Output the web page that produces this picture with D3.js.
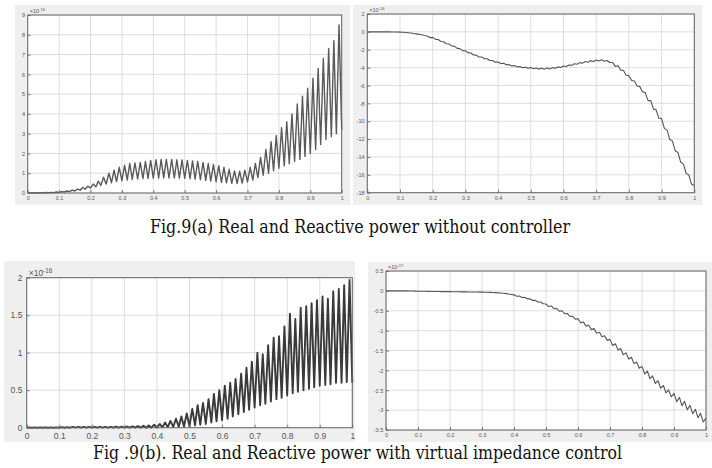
<!DOCTYPE html>
<html>
<head>
<meta charset="utf-8">
<script src="https://cdn.jsdelivr.net/npm/d3@7"></script>
<style>
  body { margin: 0; background: #fff; }
  svg { display: block; }
  .tick text { font-family: "Liberation Sans", Arial, sans-serif; fill: #555; }
  .caption { font-family: "DejaVu Serif", "Liberation Serif", serif; fill: #111; }
</style>
</head>
<body>
<div id="fig"></div>
<script>
// ---- data ----
// cycle boundaries (about 60 Hz over 1 s)
var cycleTimes = [0.000, 0.017, 0.033, 0.050, 0.067, 0.083, 0.100, 0.117, 0.133, 0.150,
  0.167, 0.183, 0.200, 0.217, 0.233, 0.250, 0.267, 0.283, 0.300, 0.317,
  0.333, 0.350, 0.367, 0.383, 0.400, 0.417, 0.433, 0.450, 0.467, 0.483,
  0.500, 0.517, 0.533, 0.550, 0.567, 0.583, 0.600, 0.617, 0.633, 0.650,
  0.667, 0.683, 0.700, 0.717, 0.733, 0.750, 0.767, 0.783, 0.800, 0.817,
  0.833, 0.850, 0.867, 0.883, 0.900, 0.917, 0.933, 0.950, 0.967, 0.983, 1.000];

var xTicks = [0, 0.1, 0.2, 0.3, 0.4, 0.5, 0.6, 0.7, 0.8, 0.9, 1];

// Fig 9(a) real power: troughs at cycle boundaries, peaks mid-cycle
var paTrough = [0, 0, 0, 0, 0.01, 0.02, 0.03, 0.05, 0.07, 0.1,
  0.14, 0.19, 0.25, 0.31, 0.38, 0.45, 0.52, 0.58, 0.63, 0.66,
  0.69, 0.71, 0.73, 0.74, 0.75, 0.76, 0.76, 0.76, 0.76, 0.75,
  0.74, 0.72, 0.7, 0.67, 0.64, 0.6, 0.57, 0.54, 0.51, 0.49,
  0.48, 0.5, 0.56, 0.65, 0.78, 0.9, 1.0, 1.12, 1.25, 1.37,
  1.48, 1.6, 1.7, 1.85, 2.0, 2.2, 2.45, 2.7, 2.85, 3.0, 3.2];
var paPeak = [0.02, 0.02, 0.02, 0.03, 0.03, 0.05, 0.07, 0.1, 0.15, 0.2,
  0.28, 0.35, 0.45, 0.6, 0.8, 1.0, 1.15, 1.3, 1.4, 1.5,
  1.52, 1.55, 1.6, 1.65, 1.68, 1.7, 1.7, 1.7, 1.68, 1.67,
  1.65, 1.62, 1.6, 1.55, 1.5, 1.45, 1.38, 1.3, 1.2, 1.12,
  1.1, 1.15, 1.3, 1.5, 1.8, 2.2, 2.6, 2.9, 3.3, 3.6,
  4.0, 4.5, 4.9, 5.3, 5.8, 6.3, 6.8, 7.3, 7.7, 8.5];
var paTicks = [0, 1, 2, 3, 4, 5, 6, 7, 8, 9];

// Fig 9(a) reactive power: tops at cycle boundaries, dips mid-cycle
var qaTop = [0, 0, 0, 0, 0, -0.01, -0.03, -0.07, -0.13, -0.22,
  -0.33, -0.46, -0.62, -0.85, -1.1, -1.35, -1.62, -1.88, -2.12, -2.37,
  -2.6, -2.82, -3.0, -3.2, -3.37, -3.52, -3.65, -3.77, -3.87, -3.95,
  -4.0, -4.04, -4.06, -4.05, -4.0, -3.92, -3.82, -3.7, -3.56, -3.44,
  -3.32, -3.22, -3.15, -3.12, -3.2, -3.42, -3.8, -4.3, -4.9, -5.5,
  -6.1, -6.8, -7.7, -8.7, -9.7, -11.0, -12.2, -13.5, -14.8, -16.0, -17.2];
var qaDip = [0, 0, 0, 0, -0.01, -0.02, -0.05, -0.1, -0.18, -0.28,
  -0.4, -0.64, -0.84, -1.08, -1.33, -1.59, -1.85, -2.1, -2.35, -2.59,
  -2.81, -3.01, -3.2, -3.39, -3.55, -3.69, -3.81, -3.92, -4.01, -4.08,
  -4.12, -4.17, -4.18, -4.15, -4.08, -3.99, -3.88, -3.75, -3.62, -3.5,
  -3.39, -3.31, -3.26, -3.28, -3.43, -3.86, -4.3, -4.85, -5.45, -6.05,
  -6.7, -7.7, -8.65, -9.65, -10.8, -12.05, -13.3, -14.6, -15.85, -17.05];
var qaTicks = [2, 0, -2, -4, -6, -8, -10, -12, -14, -16, -18];

// Fig 9(b) real power
var pbTrough = [0, 0, 0, 0, 0, 0, 0, 0, 0, 0,
  0, 0, 0, 0, 0, 0, 0, 0, 0, 0,
  0, 0, 0, 0, 0, 0.005, 0.008, 0.01, 0.012, 0.015,
  0.02, 0.03, 0.04, 0.05, 0.07, 0.085, 0.1, 0.12, 0.15, 0.18,
  0.21, 0.24, 0.27, 0.3, 0.32, 0.35, 0.38, 0.4, 0.43, 0.46,
  0.48, 0.5, 0.52, 0.54, 0.56, 0.57, 0.58, 0.6, 0.6, 0.61, 0.6];
var pbPeak = [0.005, 0.005, 0.005, 0.005, 0.005, 0.005, 0.008, 0.008, 0.01, 0.01,
  0.01, 0.012, 0.012, 0.012, 0.012, 0.012, 0.013, 0.013, 0.015, 0.018,
  0.02, 0.025, 0.03, 0.04, 0.05, 0.07, 0.09, 0.12, 0.15, 0.19,
  0.25, 0.3, 0.33, 0.38, 0.45, 0.5, 0.56, 0.6, 0.65, 0.72,
  0.8, 0.88, 1.0, 0.98, 1.1, 1.2, 1.22, 1.35, 1.52, 1.45,
  1.6, 1.62, 1.66, 1.7, 1.75, 1.72, 1.82, 1.85, 1.9, 1.97];
var pbTicks = [0, 0.5, 1, 1.5, 2];

// Fig 9(b) reactive power
var qbTop = [0, 0, 0, 0, 0, -0.005, -0.008, -0.01, -0.012, -0.015,
  -0.017, -0.019, -0.02, -0.022, -0.024, -0.026, -0.028, -0.03, -0.032, -0.035,
  -0.04, -0.05, -0.06, -0.08, -0.1, -0.13, -0.16, -0.2, -0.24, -0.28,
  -0.33, -0.38, -0.44, -0.5, -0.57, -0.64, -0.7, -0.78, -0.86, -0.95,
  -1.04, -1.13, -1.22, -1.33, -1.45, -1.56, -1.67, -1.79, -1.9, -2.02,
  -2.14, -2.26, -2.38, -2.49, -2.58, -2.68, -2.78, -2.88, -2.98, -3.08, -3.2];
var qbDip = [0, 0, 0, 0, -0.003, -0.007, -0.009, -0.011, -0.014, -0.016,
  -0.018, -0.02, -0.021, -0.023, -0.025, -0.027, -0.029, -0.031, -0.034, -0.038,
  -0.045, -0.055, -0.07, -0.09, -0.135, -0.165, -0.2, -0.24, -0.28, -0.325,
  -0.395, -0.45, -0.51, -0.575, -0.645, -0.71, -0.81, -0.89, -0.975, -1.065,
  -1.155, -1.245, -1.375, -1.49, -1.605, -1.715, -1.83, -1.945, -2.09, -2.21,
  -2.33, -2.45, -2.565, -2.665, -2.79, -2.89, -2.99, -3.09, -3.19, -3.3];
var qbTicks = [0.5, 0, -0.5, -1, -1.5, -2, -2.5, -3, -3.5];

var captionA = "Fig.9(a) Real and Reactive power without controller";
var captionB = "Fig .9(b). Real and Reactive power with virtual impedance control";

// ---- drawing ----
var W = 712, H = 468;
var svg = d3.select("#fig").append("svg").attr("width", W).attr("height", H);

// edge values sit on cycle boundaries, mid values half way between them
function cyclePoints(edge, mid) {
  var pts = [];
  for (var i = 0; i < mid.length; i++) {
    pts.push([cycleTimes[i], edge[i]]);
    pts.push([(cycleTimes[i] + cycleTimes[i + 1]) / 2, mid[i]]);
  }
  pts.push([cycleTimes[mid.length], edge[mid.length]]);
  return pts;
}

function drawPanel(p) {
  var g = svg.append("g");
  g.append("rect").attr("x", p.bg[0]).attr("y", p.bg[1])
    .attr("width", p.bg[2]).attr("height", p.bg[3]).attr("fill", "#efefef");

  var x = d3.scaleLinear().domain([0, 1]).range([p.left, p.right]);
  var y = d3.scaleLinear().domain(p.yDomain).range([p.bottom, p.top]);

  g.append("rect").attr("x", p.left).attr("y", p.top)
    .attr("width", p.right - p.left).attr("height", p.bottom - p.top).attr("fill", "#fff");

  // grid
  g.selectAll(".vg").data(xTicks).enter().append("line")
    .attr("x1", d => x(d)).attr("x2", d => x(d))
    .attr("y1", p.top).attr("y2", p.bottom)
    .attr("stroke", "#d6d6d6").attr("stroke-width", 0.8);
  g.selectAll(".hg").data(p.yTicks).enter().append("line")
    .attr("x1", p.left).attr("x2", p.right)
    .attr("y1", d => y(d)).attr("y2", d => y(d))
    .attr("stroke", "#d6d6d6").attr("stroke-width", 0.8);

  // signal
  var line = d3.line().x(d => x(d[0])).y(d => y(d[1]));
  g.append("path").datum(cyclePoints(p.edge, p.mid))
    .attr("d", line)
    .style("fill", "none")
    .style("stroke", p.color)
    .style("stroke-width", p.lw + "px")
    .style("stroke-linejoin", "round");

  // axes (ticks point inwards like matlab)
  var xAxis = g.append("g").attr("transform", "translate(0," + p.bottom + ")")
    .call(d3.axisBottom(x).tickValues(xTicks).tickFormat(d3.format("~g"))
      .tickSizeInner(-3).tickSizeOuter(0).tickPadding(p.fs * 0.6));
  var yAxis = g.append("g").attr("transform", "translate(" + p.left + ",0)")
    .call(d3.axisLeft(y).tickValues(p.yTicks).tickFormat(d => String(d))
      .tickSizeInner(-3).tickSizeOuter(0).tickPadding(p.fs * 0.5));
  [xAxis, yAxis].forEach(function(a) {
    a.select(".domain").remove();
    a.selectAll(".tick line").attr("stroke", "#777");
    a.selectAll(".tick text").style("font-size", p.fs + "px");
  });

  // box
  g.append("rect").attr("x", p.left).attr("y", p.top)
    .attr("width", p.right - p.left).attr("height", p.bottom - p.top)
    .attr("fill", "none").attr("stroke", "#666").attr("stroke-width", 1);

  // exponent label
  var ex = g.append("text").attr("x", p.left + 2).attr("y", p.top - 2)
    .style("font-family", "Liberation Sans, Arial, sans-serif")
    .style("font-size", p.fs + "px").style("fill", "#555");
  ex.append("tspan").text("\u00d710");
  ex.append("tspan").attr("dy", -p.fs * 0.35).style("font-size", (p.fs * 0.75) + "px").text(p.expo);
}

drawPanel({ bg: [15, 5, 335, 200], left: 27.7, right: 341.7, top: 15, bottom: 193,
  yDomain: [0, 9], yTicks: paTicks, edge: paTrough, mid: paPeak,
  color: "#5a5a5a", lw: 1.4, fs: 5.5, expo: "-16" });
drawPanel({ bg: [353, 5, 349, 200], left: 367.3, right: 694.3, top: 14, bottom: 192.7,
  yDomain: [-18, 2], yTicks: qaTicks, edge: qaTop, mid: qaDip,
  color: "#555", lw: 1.1, fs: 5.5, expo: "-16" });
drawPanel({ bg: [4, 261, 351, 181], left: 26.7, right: 352.3, top: 277.7, bottom: 427.7,
  yDomain: [0, 2], yTicks: pbTicks, edge: pbTrough, mid: pbPeak,
  color: "#3a3a3a", lw: 1.9, fs: 8.5, expo: "-16" });
drawPanel({ bg: [368, 262, 344, 180], left: 386, right: 706, top: 271, bottom: 430,
  yDomain: [-3.5, 0.5], yTicks: qbTicks, edge: qbTop, mid: qbDip,
  color: "#555", lw: 1.1, fs: 5.5, expo: "-17" });

// captions
svg.append("text").attr("class", "caption").attr("x", 150).attr("y", 233)
  .attr("textLength", 420).attr("lengthAdjust", "spacingAndGlyphs")
  .style("font-size", "19px").text(captionA);
svg.append("text").attr("class", "caption").attr("x", 93).attr("y", 459)
  .attr("textLength", 529).attr("lengthAdjust", "spacingAndGlyphs")
  .style("font-size", "18px").text(captionB);
</script>
</body>
</html>
